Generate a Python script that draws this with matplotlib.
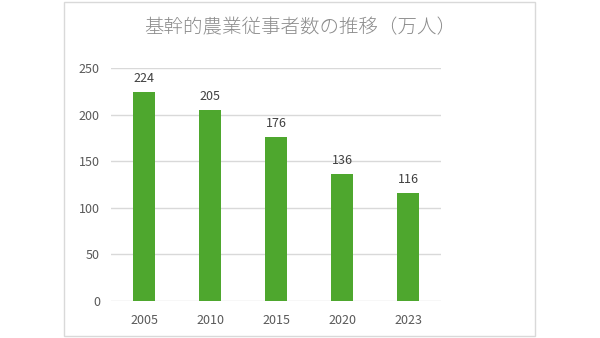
import matplotlib
matplotlib.use("Agg")
import matplotlib.pyplot as plt
from matplotlib.patches import Rectangle

plt.rcParams['font.family'] = ['Noto Sans CJK JP', 'DejaVu Sans']

years = ["2005", "2010", "2015", "2020", "2023"]
values = [224, 205, 176, 136, 116]
yticks = [0, 50, 100, 150, 200, 250]
title = "基幹的農業従事者数の推移（万人）"

fig = plt.figure(figsize=(6.0, 3.38), dpi=100)
fig.patch.set_facecolor("white")
fig.add_artist(Rectangle((64/600, 2/338), (535-64)/600, (336-2)/338,
                         transform=fig.transFigure, fill=False,
                         edgecolor="#d9d9d9", linewidth=1.0))

ax = fig.add_axes([111/600, 1-301/338, 330/600, (301-68)/338])
x = list(range(len(years)))
bars = ax.bar(x, values, width=0.32, color="#4ea72e", zorder=3)
ax.set_xlim(-0.5, len(years)-0.5)
ax.set_ylim(0, 250)
ax.set_yticks(yticks)
ax.set_xticks(x)
ax.set_xticklabels(years)
ax.yaxis.grid(True, color="#d9d9d9", linewidth=1.0, zorder=0)
for s in ax.spines.values():
    s.set_visible(False)
ax.tick_params(axis="both", length=0, colors="#595959", labelsize=9)
ax.tick_params(axis="y", pad=8)
ax.tick_params(axis="x", pad=9)
for xi, v in zip(x, values):
    ax.annotate(str(v), (xi, v), xytext=(0, 5), textcoords="offset points",
                ha="center", va="bottom", fontsize=9, color="#404040")

fig.text(300/600, 1-28/338, title, ha="center", va="center",
         fontsize=14, color="#8c8c8c", fontweight="light")

fig.savefig("out.png", dpi=100, facecolor="white")
